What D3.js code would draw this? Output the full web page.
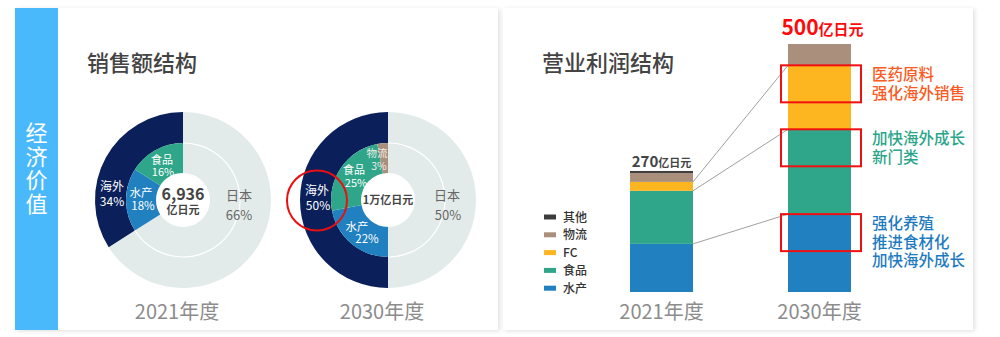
<!DOCTYPE html>
<html><head><meta charset="utf-8">
<script src="https://cdn.jsdelivr.net/npm/d3@7"></script>
<style>
html,body{margin:0;padding:0;background:#fff;}
svg{display:block;font-family:"Noto Sans CJK SC","Noto Sans",sans-serif;}
</style></head>
<body>
<svg id="c" width="1000" height="337"></svg>
<script>
// ---------- DATA ----------
const sideTitle = "经济价值";
const leftTitle = "销售额结构";
const rightTitle = "营业利润结构";
const years = ["2021年度", "2030年度"];

// donut: outer ring (region), inner ring (business)
const donutOuter2021 = [{name:"日本", value:66}, {name:"海外", value:34}];
const donutInner2021 = [{name:"日本", value:66}, {name:"水产", value:18}, {name:"食品", value:16}];
const donutOuter2030 = [{name:"日本", value:50}, {name:"海外", value:50}];
const donutInner2030 = [{name:"日本", value:50}, {name:"水产", value:22}, {name:"食品", value:25}, {name:"物流", value:3}];
const donutCenter2021 = ["6,936", "亿日元"];
const donutCenter2030 = ["1万亿日元"];

// stacked profit bars (亿日元)
const segments = ["水产", "食品", "FC", "物流", "其他"];
const profit2021 = {"水产":97, "食品":107, "FC":18, "物流":18, "其他":4};
const profit2030 = {"水产":157, "食品":171, "FC":129, "物流":43, "其他":0};
const totalLabels = [["270","亿日元"], ["500","亿日元"]];
const legendOrder = ["其他", "物流", "FC", "食品", "水产"];
const highlightSegs = ["FC", "食品", "水产"];
const notes = [
  ["医药原料", "强化海外销售"],
  ["加快海外成长", "新门类"],
  ["强化养殖", "推进食材化", "加快海外成长"]
];

// ---------- STYLE ----------
const colors = {"日本":"#e3ebea", "海外":"#0b1f5b", "水产":"#2180c0", "食品":"#2fa689",
  "FC":"#fdb520", "物流":"#aa8f7c", "其他":"#3c3c3c"};
const noteColors = ["#fb5a22", "#2aa58a", "#1f7bbf"];

const svg = d3.select("#c");
const defs = svg.append("defs");
const f = defs.append("filter").attr("id","sh").attr("x","-5%").attr("y","-5%").attr("width","110%").attr("height","110%");
f.append("feDropShadow").attr("dx",1.5).attr("dy",1).attr("stdDeviation",2).attr("flood-color","#000").attr("flood-opacity",0.13);

// panels
svg.append("rect").attr("x",15).attr("y",8).attr("width",483).attr("height",322).attr("fill","#fff").attr("filter","url(#sh)");
svg.append("rect").attr("x",503).attr("y",8).attr("width",470).attr("height",322).attr("fill","#fff").attr("filter","url(#sh)");
svg.append("rect").attr("x",15).attr("y",8).attr("width",43).attr("height",322).attr("fill","#4ab9fc");

svg.append("text").attr("x",36.5).attr("y",122)
  .style("writing-mode","vertical-rl").attr("letter-spacing",1.5)
  .attr("font-size",22).attr("fill","#fff").text(sideTitle);

svg.append("text").attr("x",87).attr("y",71).attr("font-size",22).attr("font-weight",500).attr("fill","#444").text(leftTitle);
svg.append("text").attr("x",542).attr("y",71).attr("font-size",22).attr("font-weight",500).attr("fill","#444").text(rightTitle);

// ---------- DONUTS ----------
const pie = d3.pie().sort(null).value(d=>d.value).startAngle(0).endAngle(2*Math.PI);
const rHole = 27, rMid = 57, rOut = 88;
const arcOuter = d3.arc().innerRadius(rMid).outerRadius(rOut);
const arcInner = d3.arc().innerRadius(rHole).outerRadius(rMid);
const arcLine = d3.arc().innerRadius(rMid-0.6).outerRadius(rMid+0.6);

function donut(cx, cy, outer, inner){
  const g = svg.append("g").attr("transform",`translate(${cx},${cy})`);
  g.selectAll("path.o").data(pie(outer)).join("path").attr("class","o")
    .attr("d",arcOuter).attr("fill",d=>colors[d.data.name]);
  g.selectAll("path.i").data(pie(inner)).join("path").attr("class","i")
    .attr("d",arcInner).attr("fill",d=>colors[d.data.name]);
  g.selectAll("path.l").data(pie(outer).filter(d=>d.data.name==="日本")).join("path").attr("class","l")
    .attr("d",arcLine).attr("fill","#fff");
  return g;
}
const xD = d3.scalePoint().domain(years).range([183, 388]);
const cy = 200;
const g1 = donut(xD(years[0]), cy, donutOuter2021, donutInner2021);
const g2 = donut(xD(years[1]), cy, donutOuter2030, donutInner2030);

function pct(arr, name){ const t=d3.sum(arr,d=>d.value); return Math.round(arr.find(d=>d.name===name).value/t*100)+"%"; }

// label layout (offsets from donut centre): [name, source, dx1, dy1, dx2, dy2, color, size]
function labels(g, items){
  items.forEach(([name, src, x1,y1,x2,y2,col,fs])=>{
    const t = g.append("text").attr("text-anchor","middle").attr("font-size",fs).attr("fill",col);
    t.append("tspan").attr("x",x1).attr("y",y1).text(name);
    t.append("tspan").attr("x",x2).attr("y",y2).text(pct(src,name));
  });
}
labels(g1, [
  ["海外", donutOuter2021, -71,-9, -71,5.5, "#fff", 12],
  ["水产", donutInner2021, -42,-3, -40,10, "#fff", 11.5],
  ["食品", donutInner2021, -21,-36.5, -20,-24, "#fff", 11],
  ["日本", donutOuter2021, 56,0, 56,20, "#666", 13]
]);
labels(g2, [
  ["海外", donutOuter2030, -71,-5, -70,10, "#fff", 12],
  ["食品", donutInner2030, -34,-26.5, -32,-13, "#fff", 11],
  ["物流", donutInner2030, -11,-43.5, -9,-30, "#f0ece8", 10.5],
  ["水产", donutInner2030, -31,30.5, -21,43, "#fff", 11.5],
  ["日本", donutOuter2030, 59,0, 60,20, "#666", 13]
]);
const c1 = g1.append("text").attr("text-anchor","middle").attr("font-weight",700).attr("fill","#444");
c1.append("tspan").attr("x",0).attr("y",0).attr("font-size",16).text(donutCenter2021[0]);
c1.append("tspan").attr("x",0).attr("y",14).attr("font-size",11).text(donutCenter2021[1]);
g2.append("text").attr("y",4).attr("text-anchor","middle").attr("font-size",11).attr("font-weight",700).attr("fill","#444").text(donutCenter2030[0]);
// red highlight circle around 海外 2030
g2.append("circle").attr("cx",-71).attr("cy",0.5).attr("r",30).attr("fill","none").attr("stroke","#e81010").attr("stroke-width",2);

svg.append("g").selectAll("text").data(years).join("text")
  .attr("x",d=>xD(d)-6).attr("y",319).attr("text-anchor","middle").attr("font-size",20).attr("fill","#8c8c8c").text(d=>d);

// ---------- BARS ----------
const x = d3.scaleBand().domain(years).range([630, 851]).paddingInner(0.6013).paddingOuter(0);
const y = d3.scaleLinear().domain([0, 500]).range([292, 44]);
const rows = [Object.assign({year:years[0]}, profit2021), Object.assign({year:years[1]}, profit2030)];
const stack = d3.stack().keys(segments)(rows);
const bw = x.bandwidth();

const gb = svg.append("g");
gb.selectAll("g").data(stack).join("g").attr("fill",d=>colors[d.key])
  .selectAll("rect").data(d=>d).join("rect")
  .attr("x",d=>x(d.data.year)).attr("width",bw)
  .attr("y",d=>y(d[1])).attr("height",d=>y(d[0])-y(d[1]));

// connector lines between segment tops
const topOf = (key, idx) => y(stack.find(s=>s.key===key)[idx][1]);
svg.append("g").selectAll("line").data(highlightSegs).join("line")
  .attr("x1",x(years[0])+bw).attr("y1",d=>topOf(d,0))
  .attr("x2",x(years[1])).attr("y2",d=>topOf(d,1))
  .attr("stroke","#888").attr("stroke-width",0.8);

// red boxes
svg.append("g").selectAll("rect").data(highlightSegs).join("rect")
  .attr("x",x(years[1])-7).attr("y",d=>topOf(d,1)).attr("width",bw+17).attr("height",37)
  .attr("fill","none").attr("stroke","#f01010").attr("stroke-width",2);

// notes
const gn = svg.append("g");
highlightSegs.forEach((k,i)=>{
  const t = gn.append("text").attr("font-size",15.5).attr("font-weight",500).attr("fill",noteColors[i]);
  notes[i].forEach((line,j)=>{
    t.append("tspan").attr("x",x(years[1])+bw+21).attr("y",topOf(k,1)+15+j*18.5).text(line);
  });
});

// totals
const tot0 = svg.append("text").attr("x",x(years[0])+bw/2).attr("y",y(d3.sum(segments,k=>profit2021[k]))-4)
  .attr("text-anchor","middle").attr("fill","#444").attr("font-weight",700);
tot0.append("tspan").attr("font-size",15).text(totalLabels[0][0]);
tot0.append("tspan").attr("font-size",11).text(totalLabels[0][1]);
const tot1 = svg.append("text").attr("x",x(years[1])+bw/2+3).attr("y",y(d3.sum(segments,k=>profit2030[k]))-9)
  .attr("text-anchor","middle").attr("fill","#ff0a0a").attr("font-weight",700);
tot1.append("tspan").attr("font-size",21).text(totalLabels[1][0]);
tot1.append("tspan").attr("font-size",15).text(totalLabels[1][1]);

// legend
const lg = svg.append("g").selectAll("g").data(legendOrder).join("g")
  .attr("transform",(d,i)=>`translate(544,${217+i*17.8})`);
lg.append("rect").attr("x",0).attr("y",-2.5).attr("width",12).attr("height",5).attr("fill",d=>colors[d]);
lg.append("text").attr("x",19).attr("y",4.5).attr("font-size",12).attr("font-weight",500).attr("fill","#333").text(d=>d);

// bar year labels
svg.append("g").selectAll("text").data(years).join("text")
  .attr("x",d=>x(d)+bw/2).attr("y",319).attr("text-anchor","middle").attr("font-size",20).attr("fill","#8c8c8c").text(d=>d);
</script>
</body></html>
